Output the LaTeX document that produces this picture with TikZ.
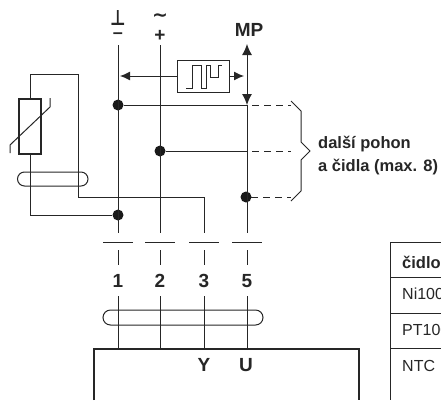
\documentclass[tikz,border=0pt]{standalone}
\usepackage{fontspec}
\setmainfont{Liberation Sans}
\newfontfamily\symb{DejaVu Sans}[Scale=1]
\usetikzlibrary{arrows.meta}

\begin{document}
\begin{tikzpicture}[x=1pt,y=-1pt]
\tikzset{wire/.style={line width=1pt,draw=black!85}}
\tikzset{heavy/.style={line width=2pt,draw=black!85}}
\tikzset{extra/.style={wire,dash pattern=on 7pt off 5pt}}
\tikzset{dot/.style={circle,fill=black!90,inner sep=0pt,minimum size=11pt}}
\tikzset{lbl/.style={font=\bfseries\fontsize{16.5}{23}\selectfont,text=black!85,inner sep=0pt}}
\tikzset{big/.style={lbl,font=\bfseries\fontsize{19}{20}\selectfont}}
\tikzset{cell/.style={lbl,anchor=west,font=\fontsize{16}{18}\selectfont}}
\tikzset{tip/.style={-{Latex[length=10pt,width=9pt]}}}

\useasboundingbox (0,0) rectangle (441,400);

% upper ends of the wires
\coordinate (t1) at (118,45);
\coordinate (t2) at (160,45);
\coordinate (mp1) at (247,105);
\coordinate (mp2) at (247,151);

% junctions
\node[dot] (j1) at (118,105) {};
\node[dot] (j2) at (160,151) {};
\node[dot] (j3) at (246,197) {};
\node[dot] (j4) at (118,215) {};

% ends above and below the terminals
\foreach \n/\x in {1/118,2/160,3/204,5/247} {
  \coordinate (a\n) at (\x,233);
  \coordinate (b\n) at (\x,250);
  \coordinate (c\n) at (\x,265);
  \coordinate (d\n) at (\x,296);
  \coordinate (e\n) at (\x,349);
  \coordinate (l\n) at (\x-15,242);
  \coordinate (r\n) at (\x+15,242);
  \node[big] (n\n) at (\x,281) {\n};
  \draw[wire] (b\n) -- (c\n);
  \draw[wire] (l\n) -- (r\n);
  \draw[wire] (d\n) -- (e\n);
}

\draw[wire] (t1) -- (a1);
\draw[wire] (t2) -- (a2);
\draw[wire] (j1) -- (mp1);
\draw[wire] (j2) -- (mp2);

% supply marks
\node[big,font=\symb\bfseries\fontsize{17}{17}\selectfont] (gnd) at (118,18) {\scalebox{1}[1.25]{⊥}};
\node[big,font=\bfseries\fontsize{18}{18}\selectfont] (minus) at (118,36) {–};
\node[big,font=\symb\bfseries\fontsize{19}{19}\selectfont] (ac) at (160,18) {\char`\~};
\node[big,font=\bfseries\fontsize{19}{19}\selectfont] (plus) at (160,36) {+};

% output
\node[big] (mp) at (249,30) {MP};
\coordinate (mptop) at (247,44);
\coordinate (mpbot) at (247,105);
\draw[wire,{Latex[length=11pt,width=10pt]}-{Latex[length=11pt,width=10pt]}] (mptop) -- (mpbot);
\draw[wire] (mpbot) -- (a5);

% pulse box
\node[draw=black!85,line width=1pt,minimum width=52pt,minimum height=32pt,inner sep=0pt] (pwm) at (203,76) {};
\coordinate (lft) at (120,76);
\coordinate (rgt) at (244,76);
\draw[wire,tip] (pwm.west) -- (lft);
\draw[wire,tip] (pwm.east) -- (rgt);
\draw[wire] (186,88) -- (192,88) -- (192,65) -- (201,65) -- (201,88) -- (206,88) -- (206,65)
  -- (210,65) -- (210,77) -- (218,77) -- (218,65) -- (222,65);

% sensor
\node[draw=black!85,line width=2pt,minimum width=22pt,minimum height=55pt,inner sep=0pt] (ntc) at (30,126) {};
\coordinate (s1) at (30,74);
\coordinate (s2) at (78,74);
\coordinate (s3) at (78,197);
\coordinate (s4) at (204,197);
\coordinate (s5) at (30,215);
\draw[wire] (ntc.north) -- (s1) -- (s2) -- (s3) -- (s4) -- (a3);
\draw[wire] (ntc.south) -- (s5) -- (j4);
\draw[wire] (10,153) -- (10,145) -- (50,107) -- (50,98);

% shields
\draw[wire,rounded corners=7pt] (17.5,172) rectangle (88,186);
\draw[wire,rounded corners=7.5pt] (103,310) rectangle (263,325);

% dashed continuation
\coordinate (x1) at (291,105);
\coordinate (x2) at (291,151);
\coordinate (x3) at (291,197);
\draw[extra] (mp1) ++(5,0) -- (x1);
\draw[extra] (mp2) ++(5,0) -- (x2);
\draw[extra] (j3) ++(5,0) -- (x3);

% brace
\draw[wire] (291,101) -- (301,111) -- (301,142) -- (310,151) -- (301,160) -- (301,191) -- (291,201);
\node[lbl,anchor=west,align=left] (more) at (318,156) {další pohon\\a čidla (max. 8)};

% device
\coordinate (bl) at (94,400);
\coordinate (tl) at (94,349);
\coordinate (tr) at (359,349);
\coordinate (br) at (359,400);
\draw[heavy] (bl) -- (tl) -- (tr) -- (br);
\node[big] (y) at (204,365) {Y};
\node[big] (u) at (246,365) {U};

% table
\draw[wire] (441,242) -- (390,242) -- (390,400);
\foreach \y in {277,313,348} \draw[wire] (390,\y) -- (441,\y);
\node[lbl,anchor=west] (h) at (402,262) {čidlo};
\node[cell] (c1) at (402,294) {Ni1000};
\node[cell] (c2) at (402,330) {PT1000};
\node[cell] (c3) at (402,366) {NTC};
\end{tikzpicture}
\end{document}
